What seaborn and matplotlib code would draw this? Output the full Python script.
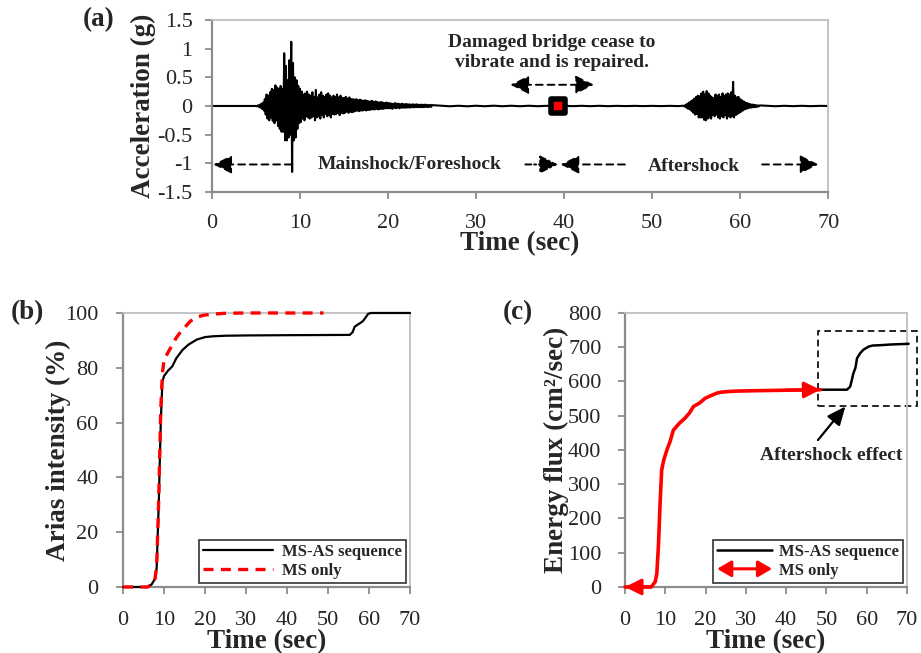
import numpy as np
import pandas as pd
import seaborn as sns
import matplotlib.pyplot as plt
from matplotlib.patches import FancyArrowPatch, Rectangle
from matplotlib.legend_handler import HandlerBase
from matplotlib.markers import MarkerStyle

# ---------------- data ----------------
# (a) acceleration record, mainshock part sampled every 0.1 s from 5.0 s
ms_start, ms_step = 5.0, 0.1
ms_acc = [
    0.0, -0.005, 0.01, -0.015, 0.02, -0.03, 0.04, -0.05, 0.06, -0.08,
    0.12, -0.15, 0.2, -0.22, 0.18, -0.25, 0.24, -0.2, 0.3, -0.26,
    0.28, -0.3, 0.36, -0.25, 0.32, -0.35, 0.3, -0.4, 0.35, -0.45,
    0.3, -0.45, 0.92, -0.6, 0.7, -0.6, 0.45, -0.55, 0.8, -0.5,
    1.12, -1.15, 0.75, -0.6, 0.5, -0.55, 0.45, -0.4, 0.35, -0.3,
    0.3, -0.28, 0.25, -0.22, 0.2, -0.25, 0.22, -0.18, 0.25, -0.2,
    0.2, -0.22, 0.18, -0.2, 0.24, -0.18, 0.16, -0.25, 0.28, -0.2,
    0.15, -0.18, 0.2, -0.22, 0.24, -0.15, 0.18, -0.2, 0.16, -0.14,
    0.2, -0.18, 0.22, -0.16, 0.18, -0.2, 0.15, -0.14, 0.18, -0.15,
    0.16, -0.14, 0.2, -0.12, 0.15, -0.16, 0.18, -0.12, 0.14, -0.13,
    0.14, -0.12, 0.16, -0.1, 0.13, -0.12, 0.15, -0.1, 0.12, -0.11,
    0.12, -0.1, 0.11, -0.09, 0.12, -0.08, 0.1, -0.09, 0.11, -0.08,
    0.1, -0.08, 0.09, -0.07, 0.1, -0.08, 0.09, -0.07, 0.08, -0.07,
    0.08, -0.06, 0.09, -0.06, 0.07, -0.06, 0.08, -0.05, 0.07, -0.06,
    0.06, -0.05, 0.07, -0.05, 0.06, -0.05, 0.05, -0.04, 0.06, -0.04,
    0.05, -0.04, 0.05, -0.04, 0.04, -0.05, 0.04, -0.03, 0.05, -0.04,
    0.04, -0.03, 0.04, -0.04, 0.03, -0.03, 0.04, -0.03, 0.03, -0.03,
    0.035, -0.03, 0.03, -0.025, 0.03, -0.03, 0.025, -0.02, 0.03, -0.025,
    0.025, -0.02, 0.03, -0.02, 0.025, -0.02, 0.02, -0.02, 0.025, -0.02,
    0.02, -0.02, 0.025, -0.015, 0.02, -0.02, 0.015, -0.015, 0.02, -0.015,
    0.015,
]
# quiet part between the shocks, one value per second from 26 s
calm_start, calm_step = 26.0, 1.0
calm_acc = [0.005, -0.005, 0.004, -0.005, 0.004, -0.004, 0.005, -0.004, 0.004, -0.004,
            0.004, -0.004, 0.003, -0.003, 0.003, -0.003, 0.003, -0.003, 0.003, -0.003,
            0.002, -0.002, 0.002, -0.002, 0.002, -0.002, 0.002, -0.002]
# aftershock part sampled every 0.1 s from 53.6 s
as_start, as_step = 53.6, 0.1
as_acc = [
    0.005, -0.01, 0.02, -0.03, 0.04, -0.05, 0.06, -0.06, 0.08, -0.09,
    0.1, -0.12, 0.13, -0.15, 0.16, -0.14, 0.18, -0.2, 0.17, -0.2,
    0.22, -0.2, 0.25, -0.24, 0.2, -0.25, 0.26, -0.22, 0.22, -0.2,
    0.18, -0.22, 0.15, -0.16, 0.14, -0.18, 0.2, -0.15, 0.18, -0.2,
    0.2, -0.22, 0.16, -0.18, 0.22, -0.2, 0.18, -0.16, 0.2, -0.22,
    0.22, -0.18, 0.2, -0.2, 0.24, -0.18, 0.42, -0.2, 0.18, -0.16,
    0.15, -0.14, 0.16, -0.12, 0.12, -0.1, 0.1, -0.08, 0.08, -0.06,
    0.06, -0.05, 0.05, -0.04, 0.04, -0.03, 0.03, -0.03, 0.025, -0.02,
    0.02, -0.02, 0.015, -0.015, 0.01, -0.01, 0.01,
]
tail_start, tail_step = 63.0, 1.0
tail_acc = [0.004, -0.004, 0.003, -0.003, 0.003, -0.003, 0.002, 0.0]
repair_time = [39.3]

# (b) Arias intensity (%)
ai_t = [0, 6, 7, 7.8, 8.2, 8.7, 9.2, 9.6, 10, 11, 12, 13, 14.5, 16, 18, 20, 22,
        25, 30, 40, 55.3, 56, 56.5, 57.5, 58.5, 59, 59.8, 60.5, 70]
ai_seq = [0, 0, 1, 3, 7, 30, 60, 75, 77, 79, 80.5, 83.5, 86.5, 88.5, 90.3, 91.2, 91.5,
          91.7, 91.8, 91.9, 92, 93, 95, 96, 97, 98, 99.7, 100, 100]
ai_ms_t = [0, 6, 7, 7.8, 8.2, 8.7, 9.2, 9.6, 10, 11.5, 13, 14, 16.4, 18, 19.7, 22, 25, 30, 40, 48.9]
ai_ms = [0, 0, 1, 3, 7.5, 32, 65, 78, 83, 87, 91, 93, 97, 98.5, 99.2, 99.6, 99.9, 100, 100, 100]

# (c) energy flux (cm2/sec)
ef_t = [0, 6.5, 7.5, 7.9, 8.3, 8.7, 9.1, 9.6, 10.4, 11.2, 12, 13.5, 14.9, 16, 17, 18.5,
        19.9, 21, 22.8, 24, 26, 28, 32, 40, 48.5]
ef_ms = [0, 0, 15, 39, 120, 240, 341, 370, 400, 425, 458, 478, 493, 508, 527, 537,
         551, 557, 566, 569, 571, 572, 573, 574.5, 576]
ef_as_t = [55.1, 55.9, 56.7, 57.2, 57.6, 58.4, 59.2, 60.5, 61.5, 63.4, 66, 70.4]
ef_as = [576, 585, 624, 640, 668, 683, 693, 702, 705, 706, 708, 710]

# ---------------- style ----------------
sns.set_style("white")
plt.rcParams['font.family'] = ['Liberation Serif', 'DejaVu Serif']
plt.rcParams['axes.unicode_minus'] = False

fig = plt.figure(figsize=(9.21, 6.53), dpi=100)
ax_a = fig.add_axes([0.2302, 0.706, 0.669, 0.2634])
ax_b = fig.add_axes([0.1336, 0.1011, 0.3116, 0.4196])
ax_c = fig.add_axes([0.6786, 0.1011, 0.3062, 0.4196])

tick_fs = 16
lab_fs = 19.5
ann_fs = 14


def frame(ax, xpad, ypad):
    for side in ['top', 'right']:
        ax.spines[side].set_color('#bfbfbf')
        ax.spines[side].set_linewidth(1.3)
    for side in ['left', 'bottom']:
        ax.spines[side].set_color('#8c8c8c')
        ax.spines[side].set_linewidth(1.6)
    ax.tick_params(axis='both', direction='out', length=5, width=1.3,
                   color='#8c8c8c', labelsize=tick_fs, left=True, bottom=True)
    ax.tick_params(axis='x', pad=xpad)
    ax.tick_params(axis='y', pad=ypad)
    ax.set_xlim(0, 70)
    ax.set_xticks(range(0, 71, 10))


# ---------------- (a) acceleration ----------------
t_ms = [round(ms_start + i * ms_step, 2) for i in range(len(ms_acc))]
t_calm = [calm_start + i * calm_step for i in range(len(calm_acc))]
t_as = [round(as_start + i * as_step, 2) for i in range(len(as_acc))]
t_tail = [tail_start + i * tail_step for i in range(len(tail_acc))]
df_acc = pd.DataFrame({
    't': [0.0, 4.9] + t_ms + t_calm + t_as + t_tail + [70.3],
    'acc': [0.0, 0.0] + ms_acc + calm_acc + as_acc + tail_acc + [0.0],
})
sns.lineplot(data=df_acc, x='t', y='acc', ax=ax_a, color='black', lw=1.5,
             estimator=None, sort=False)
ax_a.plot(repair_time, [0], marker=MarkerStyle('s', joinstyle='round'),
          markersize=9.5, markerfacecolor='red', markeredgecolor='black',
          markeredgewidth=4, zorder=5)
frame(ax_a, xpad=10.5, ypad=9)
ax_a.set_ylim(-1.5, 1.5)
ax_a.set_yticks([-1.5, -1, -0.5, 0, 0.5, 1, 1.5])
ax_a.set_yticklabels(['-1.5', '-1', '-0.5', '0', '0.5', '1', '1.5'])
ax_a.set_xlabel('Time (sec)', fontsize=lab_fs, fontweight='bold', labelpad=-1)
ax_a.set_ylabel('Acceleration (g)', fontsize=lab_fs, fontweight='bold', labelpad=1)

dash = (0, (3.5, 2.5))


def darrow(ax, x0, x1, y, both=False, ls=dash):
    style = '<|-|>' if both else '-|>'
    kw = dict(arrowstyle=style + ',head_length=0.8,head_width=0.4', color='black',
              lw=1.4, linestyle=ls, shrinkA=0, shrinkB=0, mutation_scale=14)
    ax.annotate('', xy=(x1, y), xytext=(x0, y), arrowprops=kw)


darrow(ax_a, 9.05, 0.15, -1.02)
darrow(ax_a, 35.6, 39.3, -1.02, ls=(0, (3, 1.5, 1, 1.5)))
darrow(ax_a, 46.9, 39.6, -1.02)
darrow(ax_a, 62.5, 68.9, -1.02)
darrow(ax_a, 33.9, 43.4, 0.37, both=True)
ax_a.text(22.5, -1.02, 'Mainshock/Foreshock', fontsize=ann_fs, fontweight='bold',
          ha='center', va='center')
ax_a.text(54.7, -1.05, 'Aftershock', fontsize=ann_fs, fontweight='bold',
          ha='center', va='center')
ax_a.text(38.6, 0.935, 'Damaged bridge cease to\nvibrate and is repaired.',
          fontsize=ann_fs, fontweight='bold', ha='center', va='center',
          linespacing=1.25)

# ---------------- (b) Arias intensity ----------------
sns.lineplot(x=ai_t, y=ai_seq, ax=ax_b, color='black', lw=1.6,
             label='MS-AS sequence', estimator=None, zorder=3, clip_on=False)
sns.lineplot(x=ai_ms_t, y=ai_ms, ax=ax_b, color='red', lw=2.4,
             label='MS only', estimator=None, zorder=3, clip_on=False)
ax_b.lines[1].set_linestyle((0, (3, 2.2)))
frame(ax_b, xpad=12.5, ypad=12.5)
ax_b.set_ylim(0, 100)
ax_b.set_yticks(range(0, 101, 20))
ax_b.set_xlabel('Time (sec)', fontsize=lab_fs, fontweight='bold', labelpad=-1)
ax_b.set_ylabel('Arias intensity (%)', fontsize=lab_fs, fontweight='bold', labelpad=-4)
leg_b = ax_b.legend(loc='lower right', prop={'weight': 'bold', 'size': 12},
                    handlelength=4.2, frameon=True, fancybox=False, borderaxespad=0.25,
                    borderpad=0.25, labelspacing=0.15, handletextpad=0.5)
leg_b.get_frame().set_edgecolor('black')
leg_b.get_frame().set_linewidth(1.2)


# ---------------- (c) energy flux ----------------
class ArrowHandler(HandlerBase):
    def create_artists(self, legend, orig_handle, xdescent, ydescent,
                       width, height, fontsize, trans):
        y = height / 2 - ydescent
        p = FancyArrowPatch((-xdescent, y), (width - xdescent, y),
                            arrowstyle='<|-|>,head_length=0.6,head_width=0.35',
                            mutation_scale=14, color='red', lw=2.2,
                            shrinkA=0, shrinkB=0, transform=trans)
        return [p]


sns.lineplot(x=[ef_t[-1]] + ef_as_t, y=[ef_ms[-1]] + ef_as, ax=ax_c, color='black',
             lw=1.8, estimator=None, zorder=3, clip_on=False)
sns.lineplot(x=ef_t, y=ef_ms, ax=ax_c, color='red', lw=2.6, estimator=None,
             zorder=3, clip_on=False)
head = dict(arrowstyle='-|>,head_length=0.7,head_width=0.35', color='red', lw=2.2,
            shrinkA=0, shrinkB=0, mutation_scale=14)
ax_c.annotate('', xy=(ef_t[-1], ef_ms[-1]), xytext=(ef_t[-2], ef_ms[-2]),
              arrowprops=head, annotation_clip=False)
ax_c.annotate('', xy=(ef_t[0], ef_ms[0]), xytext=(ef_t[1], ef_ms[1]),
              arrowprops=head, annotation_clip=False)
frame(ax_c, xpad=12.5, ypad=12)
ax_c.set_ylim(0, 800)
ax_c.set_yticks(range(0, 801, 100))
ax_c.set_xlabel('Time (sec)', fontsize=lab_fs, fontweight='bold', labelpad=-1)
ax_c.set_ylabel('Energy flux (cm²/sec)', fontsize=lab_fs, fontweight='bold', labelpad=-1)
ax_c.add_patch(Rectangle((47.9, 529), 24.6, 217, fill=False, ec='black', lw=1.2,
                         ls=(0, (4, 2.5)), clip_on=False))
ax_c.annotate('', xy=(54.7, 527), xytext=(47.9, 429),
              arrowprops=dict(arrowstyle='-|>,head_length=0.8,head_width=0.35',
                              color='black', lw=1.6, shrinkA=0, shrinkB=0,
                              mutation_scale=14))
ax_c.text(51.3, 384, 'Aftershock effect', fontsize=ann_fs, fontweight='bold',
          ha='center', va='center')
black_h = plt.Line2D([], [], color='black', lw=1.8)
red_h = FancyArrowPatch((0, 0), (1, 0))
leg_c = ax_c.legend([black_h, red_h], ['MS-AS sequence', 'MS only'], loc='lower right',
                    handler_map={FancyArrowPatch: ArrowHandler()},
                    prop={'weight': 'bold', 'size': 12}, handlelength=3.3,
                    frameon=True, fancybox=False, borderaxespad=0.25, borderpad=0.25,
                    labelspacing=0.15, handletextpad=0.4)
leg_c.get_frame().set_edgecolor('black')
leg_c.get_frame().set_linewidth(1.2)

# panel letters
fig.text(99 / 921, 1 - 20 / 653, '(a)', fontsize=lab_fs, fontweight='bold',
         ha='center', va='center')
fig.text(27 / 921, 1 - 313 / 653, '(b)', fontsize=lab_fs, fontweight='bold',
         ha='center', va='center')
fig.text(518 / 921, 1 - 313 / 653, '(c)', fontsize=lab_fs, fontweight='bold',
         ha='center', va='center')

fig.savefig('out.png', dpi=100)
